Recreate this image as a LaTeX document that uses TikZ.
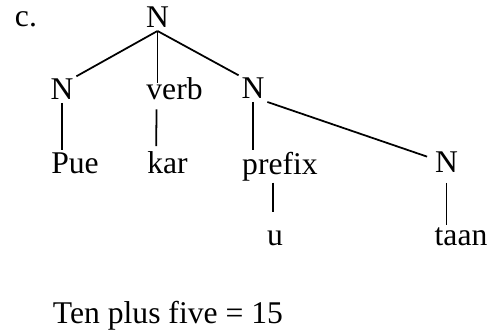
\documentclass[tikz,border=0pt]{standalone}
\usepackage{fontspec}
\setmainfont{Liberation Serif}
\usetikzlibrary{calc}

\begin{document}
\begin{tikzpicture}[x=0.02cm, y=-0.02cm, line width=1pt,
    w/.style={anchor=base, inner sep=1.7pt, outer sep=0pt, font=\fontsize{18}{20}\selectfont}]
  \useasboundingbox (0,0) rectangle (490,333);
  \node[w, anchor=base west] (lbl) at (12,27) {c.};
  \node[w] (top) at (157.5,28) {N};
  \node[w] (nl) at (62,100) {N};
  \node[w] (verb) at (174.5,100) {verb};
  \node[w] (nr) at (253,99) {N};
  \node[w] (pue) at (75,174) {Pue};
  \node[w] (kar) at (167.5,174) {kar};
  \node[w] (prefix) at (280,175) {prefix};
  \node[w] (nr3) at (446.5,173) {N};
  \node[w] (u) at (275,246) {u};
  \node[w] (taan) at (461,246) {taan};
  \node[w, anchor=base west] (sum) at (50,324) {Ten plus five = 15};
  % branches
  \draw (top.south) -- (nl.north east);
  \draw (top.south) -- ($(top.south |- verb.north)+(0,8)$);
  \draw (top.south) -- (nr.north west);
  \draw (nr.south east) -- ($(nr3.west)+(-5,-6)$);
  \draw (nl.south) -- (nl.south |- pue.north);
  \draw ($(verb.south west)+(13,6)$) -- ($(kar.north west)+(12,-3)$);
  \draw (nr.south) -- (nr.south |- prefix.north);
  \draw ($(u.north |- prefix.south)+(-2,-2)$) -- ($(u.north)+(-2,-16)$);
  \draw ($(nr3.south)+(0,7)$) -- (nr3.south |- taan.north);
\end{tikzpicture}
\end{document}
